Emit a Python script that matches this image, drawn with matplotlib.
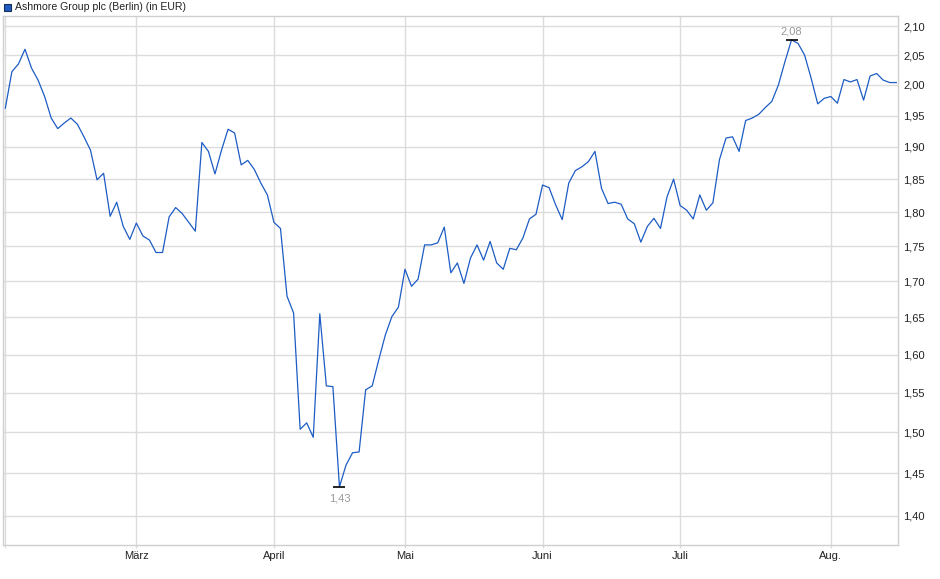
import matplotlib
matplotlib.use("Agg")
import matplotlib.pyplot as plt
import matplotlib.ticker as ticker
import matplotlib.patches as mpatches
import numpy as np

plt.rcParams['font.family'] = ['Liberation Sans', 'DejaVu Sans']

# Ashmore Group plc (Berlin), daily closes in EUR, one value per trading day
prices = [
    1.962, 2.022, 2.035, 2.060, 2.028, 2.008, 1.981, 1.946, 1.929, 1.938,
    1.946, 1.936, 1.916, 1.895, 1.849, 1.859, 1.794, 1.815, 1.779, 1.760,
    1.784, 1.765, 1.759, 1.741, 1.741, 1.793, 1.807, 1.798, 1.785, 1.772,
    1.907, 1.893, 1.858, 1.895, 1.928, 1.922, 1.872, 1.879, 1.865, 1.844,
    1.826, 1.785, 1.776, 1.679, 1.656, 1.504, 1.512, 1.494, 1.655, 1.559,
    1.558, 1.434, 1.460, 1.475, 1.476, 1.554, 1.559, 1.593, 1.626, 1.651,
    1.664, 1.717, 1.693, 1.703, 1.752, 1.752, 1.755, 1.778, 1.712, 1.726,
    1.697, 1.733, 1.752, 1.730, 1.757, 1.726, 1.717, 1.747, 1.745, 1.762,
    1.790, 1.797, 1.841, 1.837, 1.811, 1.789, 1.844, 1.863, 1.869, 1.877,
    1.893, 1.836, 1.813, 1.815, 1.812, 1.790, 1.783, 1.756, 1.779, 1.791,
    1.776, 1.823, 1.850, 1.810, 1.803, 1.790, 1.826, 1.803, 1.814, 1.880,
    1.914, 1.916, 1.893, 1.942, 1.946, 1.952, 1.963, 1.973, 2.000, 2.039,
    2.076, 2.070, 2.050, 2.011, 1.969, 1.978, 1.981, 1.970, 2.009, 2.005,
    2.009, 1.975, 2.015, 2.019, 2.008, 2.004, 2.004,
]

# first trading day of each month (index into prices)
month_labels = ["März", "April", "Mai", "Juni", "Juli", "Aug."]
month_index = [20, 41, 61, 82, 103, 126]

y_ticks = [1.40, 1.45, 1.50, 1.55, 1.60, 1.65, 1.70, 1.75, 1.80, 1.85,
           1.90, 1.95, 2.00, 2.05, 2.10]

title = "Ashmore Group plc (Berlin) (in EUR)"
line_col = "#1c5cc4"
grid_col = "#dcdcdc"

W, H = 940, 579
fig = plt.figure(figsize=(W / 100, H / 100), dpi=100)
ax = fig.add_axes([2.7 / W, 1 - 545 / H, (898.3 - 2.7) / W, (545 - 16) / H])

x = np.arange(len(prices))
y = np.array(prices)

ax.set_yscale("log")
ax.set_xlim(-0.4, len(prices) - 0.7)
ax.set_ylim(1.3666, 2.1175)

# grid
for yt in y_ticks:
    ax.axhline(yt, color=grid_col, lw=1.0, zorder=1)
for xi in [0] + month_index:
    ax.axvline(xi, color=grid_col, lw=1.0, zorder=1)

ax.plot(x, y, color=line_col, lw=0.9, zorder=3)

# min / max markers
i_min = int(np.argmin(y))
i_max = int(np.argmax(y))
ax.plot([x[i_min], x[i_max]], [y[i_min], y[i_max]], marker="_", ms=8, mew=1.2,
        color="black", ls="none", zorder=4)
ax.annotate(f"{y[i_min]:.2f}".replace(".", ","), (x[i_min], y[i_min]),
            xytext=(0, -5), textcoords="offset points", ha="center", va="top",
            fontsize=8, color="#9a9a9a")
ax.annotate(f"{y[i_max]:.2f}".replace(".", ","), (x[i_max], y[i_max]),
            xytext=(0, 2.5), textcoords="offset points", ha="center", va="bottom",
            fontsize=8, color="#9a9a9a")

# axes
ax.yaxis.tick_right()
ax.yaxis.set_major_locator(ticker.FixedLocator(y_ticks))
ax.yaxis.set_minor_locator(ticker.NullLocator())
ax.yaxis.set_major_formatter(ticker.FuncFormatter(lambda v, p: f"{v:.2f}".replace(".", ",")))
ax.tick_params(axis="y", length=0, pad=3.5, labelsize=8, labelcolor="#222222")

ax.set_xticks([0] + month_index)
ax.set_xticklabels([""] + month_labels)
ax.tick_params(axis="x", length=2, width=1, color=grid_col, pad=2, labelsize=8,
               labelcolor="#222222")

for s in ax.spines.values():
    s.set_color("#cfcfcf")
    s.set_linewidth(1.0)

# legend box
fig.patches.append(mpatches.Rectangle((4 / W, 1 - 11 / H), 7 / W, 7 / H,
                                      transform=fig.transFigure, facecolor=line_col,
                                      edgecolor="#1a2a55", lw=0.8))
fig.text(15 / W, 1 - 6.5 / H, title, fontsize=7.6, color="#222222", va="center", ha="left")

fig.savefig("out.png", dpi=100)
